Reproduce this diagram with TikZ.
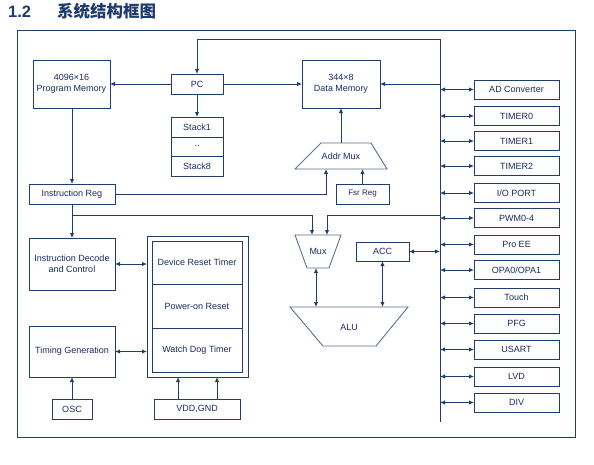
\documentclass[tikz,border=0pt]{standalone}
\usepackage{fontspec}
\setmainfont{Liberation Sans}
\newfontfamily\cjk{Noto Sans CJK SC}
\usetikzlibrary{arrows.meta}
\definecolor{ln}{HTML}{1F3D6D}
\definecolor{tx}{HTML}{1B2A5E}
\definecolor{tz}{HTML}{5A6E90}
\definecolor{tt}{HTML}{1F3A6E}
\tikzset{
  x=1pt,y=-1pt,
  box/.style={draw=ln,line width=1pt,inner sep=0pt,outer sep=0pt,text=tx,font=\fontsize{9}{10.5}\selectfont,align=center},
  arr/.style={draw=ln,line width=1pt,-{Latex[length=5pt,width=4.5pt]}},
  darr/.style={draw=ln,line width=1pt,{Latex[length=5pt,width=4.5pt]}-{Latex[length=5pt,width=4.5pt]}},
  ln/.style={draw=ln,line width=1pt},
  trap/.style={draw=tz,line width=0.9pt},
  lbl/.style={text=tx,font=\fontsize{9}{10.5}\selectfont,inner sep=0pt},
  per/.style={box,minimum width=85pt,minimum height=19pt},
}
\begin{document}
\begin{tikzpicture}
\useasboundingbox (0,0) rectangle (594,464);
% title
\node[anchor=base west,inner sep=0pt,text=tt,font=\fontsize{16.5}{18}\selectfont\bfseries] (t1) at (8,17) {1.2};
\node[anchor=base west,inner sep=0pt,text=tt,font=\fontsize{16.5}{18}\selectfont\cjk\bfseries] (t2) at (57,17) {系统结构框图};
% frame
\draw[ln] (17,30) rectangle (575,437);
% boxes
\node[box,minimum width=77pt,minimum height=48pt] (pm) at (71.5,84) {4096×16\\Program Memory};
\node[box,minimum width=52pt,minimum height=20pt] (pc) at (197,84) {PC};
\node[box,minimum width=52pt,minimum height=20pt] (s1) at (197,127) {Stack1};
\node[box,minimum width=52pt,minimum height=19pt] (s2) at (197,146.5) {..};
\node[box,minimum width=52pt,minimum height=20pt] (s3) at (197,166) {Stack8};
\node[box,minimum width=78pt,minimum height=48pt] (dm) at (341,84) {344×8\\Data Memory};
\node[box,minimum width=86pt,minimum height=20pt] (ir) at (72,194) {Instruction Reg};
\node[box,minimum width=53pt,minimum height=20pt,font=\fontsize{8}{9.5}\selectfont] (fsr) at (362.5,194) {Fsr Reg};
% addr mux
\coordinate (amt) at (341,143);
\coordinate (amb1) at (326,169);
\coordinate (amb2) at (362.5,169);
\draw[trap] (321,143) -- (371,143) -- (387,169) -- (295,169) -- cycle;
\node[lbl] (am) at (341,156.5) {Addr Mux};
% peripherals
\node[per] (ad) at (516.5,89.5) {AD Converter};
\node[per] (t0) at (516.5,116) {TIMER0};
\node[per] (tm1) at (516.5,141) {TIMER1};
\node[per] (tm2) at (516.5,166) {TIMER2};
\node[per] (io) at (516.5,193) {I/O PORT};
\node[per] (pwm) at (516.5,218) {PWM0-4};
\node[per] (pee) at (516.5,244.5) {Pro EE};
\node[per] (opa) at (516.5,270) {OPA0/OPA1};
\node[per] (tch) at (516.5,297.5) {Touch};
\node[per] (pfg) at (516.5,323.5) {PFG};
\node[per] (usart) at (516.5,349.5) {USART};
\node[per] (lvd) at (516.5,376.5) {LVD};
\node[per] (div) at (516.5,402.5) {DIV};
% bus
\coordinate (bt) at (440,39);
\coordinate (bb) at (440,422);
\coordinate (pct) at (197,39);
\draw[ln] (pct) -- (bt) -- (bb);
\draw[arr] (pct) -- (pc.north);
\foreach \p in {ad,t0,tm1,tm2,io,pwm,pee,opa,tch,pfg,usart,lvd,div}
  \draw[darr] (bt |- \p.west) -- (\p.west);
\draw[arr] (bt |- dm.east) -- (dm.east);
% PC connections
\draw[arr] (pc.west) -- (pm.east);
\draw[arr] (pc.east) -- (dm.west);
\draw[arr] (pc.south) -- (s1.north);
\draw[arr] (pm.south -| ir.north) -- (ir.north);
\draw[arr] (ir.east) -- (amb1 |- ir.east) -- (amb1);
\draw[arr] (fsr.north -| amb2) -- (amb2);
\draw[arr] (amt) -- (dm.south);
% lower left
\node[box,minimum width=86pt,minimum height=52pt] (id) at (72,264) {Instruction Decode\\and Control};
\node[box,minimum width=86pt,minimum height=51pt] (tg) at (72,351.5) {Timing Generation};
\node[box,minimum width=40pt,minimum height=20pt] (osc) at (72,409) {OSC};
\node[box,minimum width=101pt,minimum height=141pt] (grp) at (197.5,306.5) {};
\node[box,minimum width=90pt,minimum height=43pt] (drt) at (197,262.5) {Device Reset Timer};
\node[box,minimum width=90pt,minimum height=44pt] (por) at (197,306) {Power-on Reset};
\node[box,minimum width=90pt,minimum height=44pt] (wdt) at (197,350) {Watch Dog Timer};
\node[box,minimum width=86pt,minimum height=20pt] (vdd) at (197,409) {VDD,GND};
\draw[arr] (ir.south) -- (id.north);
\draw[darr] (id.east) -- (grp.west |- id.east);
\draw[darr] (tg.east) -- (grp.west |- tg.east);
\draw[arr] (osc.north) -- (tg.south);
\coordinate (v1) at (178,399);
\coordinate (v2) at (217,399);
\draw[arr] (v1) -- (v1 |- grp.south);
\draw[arr] (v2) -- (v2 |- grp.south);
% mux, acc, alu
\coordinate (mt1) at (312,235);
\coordinate (mt2) at (327,235);
\draw[trap] (295,235) -- (341,235) -- (329,268) -- (307,268) -- cycle;
\node[lbl] (mux) at (318,251) {Mux};
\coordinate (brn) at (72,215);
\draw[arr] (brn) -- (mt1 |- brn) -- (mt1);
\draw[arr] (440,215) -- (mt2 |- brn) -- (mt2);
\node[box,minimum width=53pt,minimum height=19pt] (acc) at (382.5,251.5) {ACC};
\draw[darr] (acc.east) -- (bt |- acc.east);
\draw[trap] (290,307) -- (408,307) -- (376,346) -- (323,346) -- cycle;
\node[lbl] (alu) at (349,327) {ALU};
\coordinate (mb) at (316,268);
\coordinate (at1) at (316,307);
\coordinate (at2) at (382.5,307);
\draw[darr] (mb) -- (at1);
\draw[darr] (acc.south) -- (at2);
\end{tikzpicture}
\end{document}
